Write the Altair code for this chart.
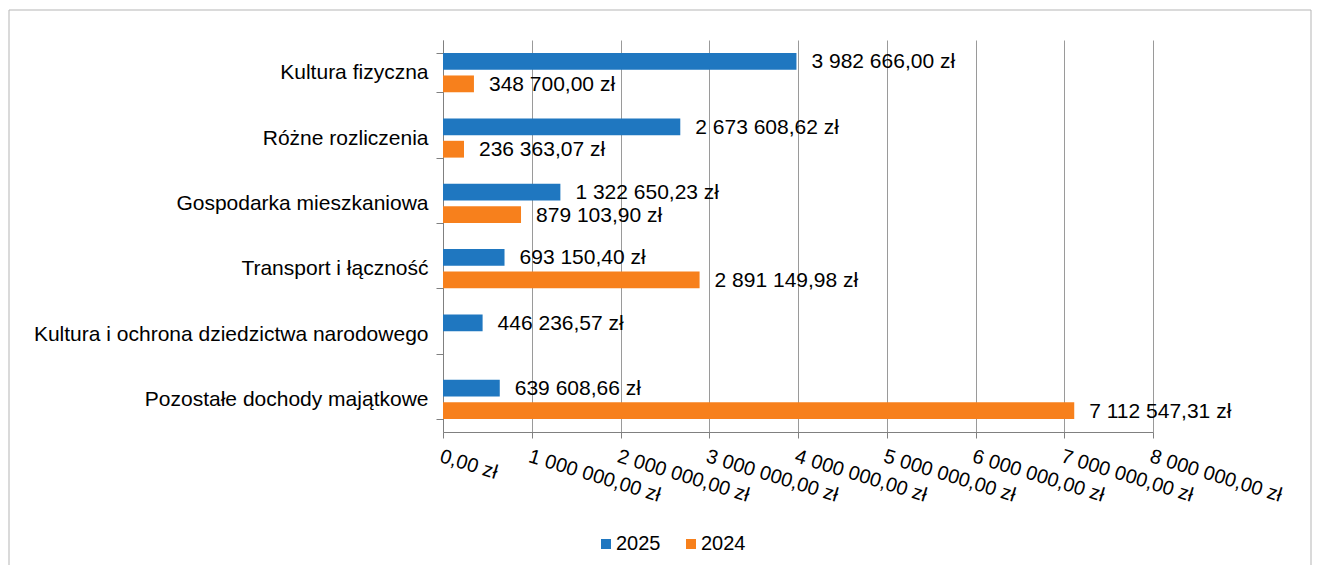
import altair as alt
import pandas as pd

categories = [
    "Kultura fizyczna",
    "Różne rozliczenia",
    "Gospodarka mieszkaniowa",
    "Transport i łączność",
    "Kultura i ochrona dziedzictwa narodowego",
    "Pozostałe dochody majątkowe",
]
years = ["2025", "2024"]
values_2025 = [3982666.00, 2673608.62, 1322650.23, 693150.40, 446236.57, 639608.66]
values_2024 = [348700.00, 236363.07, 879103.90, 2891149.98, None, 7112547.31]
x_ticks = [0, 1000000, 2000000, 3000000, 4000000, 5000000, 6000000, 7000000, 8000000]
colors = ["#1f77c0", "#f7801c"]


def pln(v):
    return f"{v:,.2f}".replace(",", " ").replace(".", ",") + " zł"


rows = []
for cat, a, b in zip(categories, values_2025, values_2024):
    for yr, v in (("2025", a), ("2024", b)):
        if v is not None:
            rows.append({"cat": cat, "year": yr, "value": v, "label": pln(v)})
df = pd.DataFrame(rows)

FONT = "Liberation Sans"

y_enc = alt.Y(
    "cat:N",
    sort=categories,
    scale=alt.Scale(paddingInner=0.4, paddingOuter=0.2),
    axis=alt.Axis(
        orient="left",
        title=None,
        ticks=True,
        tickBand="extent",
        tickSize=7,
        tickColor="#808080",
        labelFontSize=21,
        labelPadding=8,
        labelLimit=800,
        labelColor="black",
        domain=True,
        domainColor="#808080",
    ),
)
yoff = alt.YOffset("year:N", sort=years, scale=alt.Scale(domain=years, paddingInner=0.25, paddingOuter=0))
x_enc = alt.X(
    "value:Q",
    scale=alt.Scale(domain=[0, 8000000], nice=False),
    axis=alt.Axis(
        title=None,
        values=x_ticks,
        labelExpr="replace(replace(format(datum.value, ',.2f'), regexp(',', 'g'), ' '), '.', ',') + ' zł'",
        labelAngle=17,
        labelAlign="left",
        labelBaseline="top",
        labelFontSize=20,
        labelPadding=8,
        labelColor="black",
        labelOverlap=False,
        labelBound=False,
        labelFlush=False,
        tickSize=6,
        tickColor="#808080",
        domainColor="#808080",
        grid=True,
        gridColor="#9a9a9a",
    ),
)

base = alt.Chart(df)

bars = base.mark_bar().encode(
    y=y_enc,
    yOffset=yoff,
    x=x_enc,
    color=alt.Color(
        "year:N",
        sort=years,
        scale=alt.Scale(domain=years, range=colors),
        legend=alt.Legend(
            orient="none",
            legendX=153,
            legendY=494,
            direction="horizontal",
            title=None,
            symbolType="square",
            symbolSize=100,
            symbolStrokeWidth=0,
            labelFontSize=20,
            labelColor="black",
            columnPadding=20,
            labelOffset=0,
        ),
    ),
)

texts = base.mark_text(align="left", baseline="middle", dx=15, dy=1, fontSize=21, color="black").encode(
    y=alt.Y("cat:N", sort=categories),
    yOffset=yoff,
    x=alt.X("value:Q"),
    text="label:N",
)

frame = alt.Chart(pd.DataFrame({"a": [0]})).mark_rect(fillOpacity=0, stroke="#b5b5b5", strokeWidth=1).encode(
    x=alt.value(-434), x2=alt.value(868), y=alt.value(-30), y2=alt.value(700)
)

chart = (
    alt.layer(frame, bars, texts)
    .properties(
        width=710,
        height=392,
        padding={"left": 435, "top": 32, "right": 160, "bottom": 133},
        autosize=alt.AutoSizeParams(type="none"),
    )
    .configure(font=FONT)
    .configure_view(stroke=None)
)

chart.save("out.html", embed_options={"renderer": "svg", "actions": False})
